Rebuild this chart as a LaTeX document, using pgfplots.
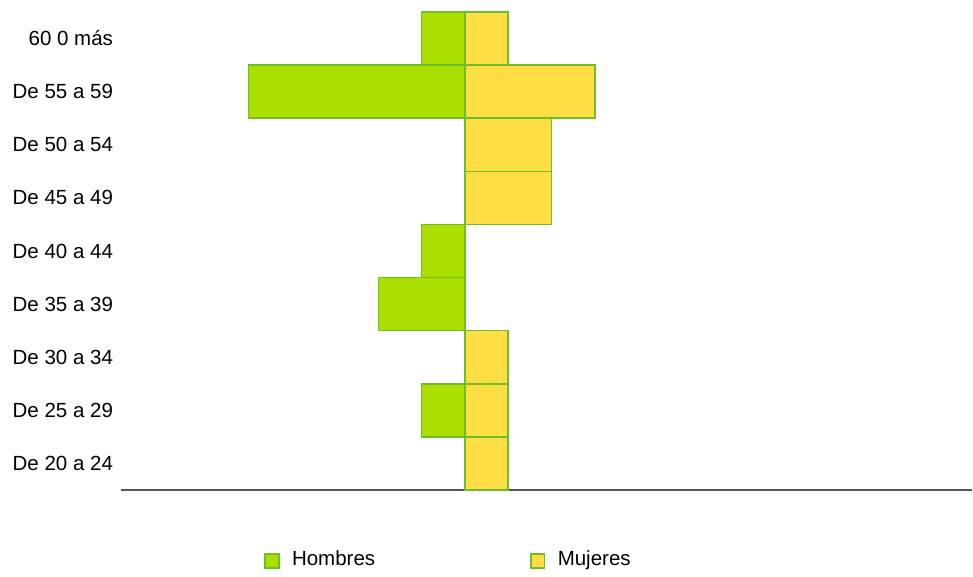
\documentclass[border=0pt]{standalone}
\usepackage{pgfplots}
\pgfplotsset{compat=1.18}
\usepackage{fontspec}
\setmainfont{Liberation Sans}
\definecolor{hgreen}{RGB}{170,223,0}
\definecolor{myellow}{RGB}{255,221,68}
\definecolor{edgegreen}{RGB}{110,190,40}
\definecolor{axisgray}{RGB}{85,85,85}

\begin{document}
\begin{tikzpicture}
\begin{axis}[
  scale only axis,
  width=425.5pt, height=239pt,
  xmin=-7.95, xmax=11.72,
  ymin=-0.5, ymax=8.5,
  clip=false,
  xbar, bar width=1, bar shift=0pt,
  axis x line*=bottom,
  axis y line*=left,
  x axis line style={axisgray, line width=0.6pt, -},
  y axis line style={draw=none},
  xtick=\empty,
  ytick={0,...,8},
  yticklabels={De 20 a 24,De 25 a 29,De 30 a 34,De 35 a 39,De 40 a 44,De 45 a 49,De 50 a 54,De 55 a 59,60 0 más},
  major tick length=0pt,
  tick label style={font=\fontsize{10.25}{12}\selectfont},
  yticklabel style={xshift=-0.5pt},
  legend columns=2,
  legend style={at={(rel axis cs:0.161,-0.146)}, anchor=west, draw=none,
    font=\fontsize{10.25}{12}\selectfont,
    /tikz/every even column/.append style={column sep=75.5pt}},
  legend image code/.code={\draw[#1] (0pt,-4pt) rectangle (6.8pt,2.8pt); \path (11pt,0pt);},
]
\addplot[fill=hgreen, draw=edgegreen, line width=0.8pt] coordinates
  {(-1,1) (-2,3) (-1,4) (-5,7) (-1,8)};
\addlegendentry{Hombres}
\addplot[fill=myellow, draw=edgegreen, line width=0.8pt] coordinates
  {(1,0) (1,1) (1,2) (2,5) (2,6) (3,7) (1,8)};
\addlegendentry{Mujeres}
\path (rel axis cs:0,0) ++(-60.5pt,-39pt);
\path (rel axis cs:1,1) ++(0.5pt,6pt);
\end{axis}
\end{tikzpicture}
\end{document}
